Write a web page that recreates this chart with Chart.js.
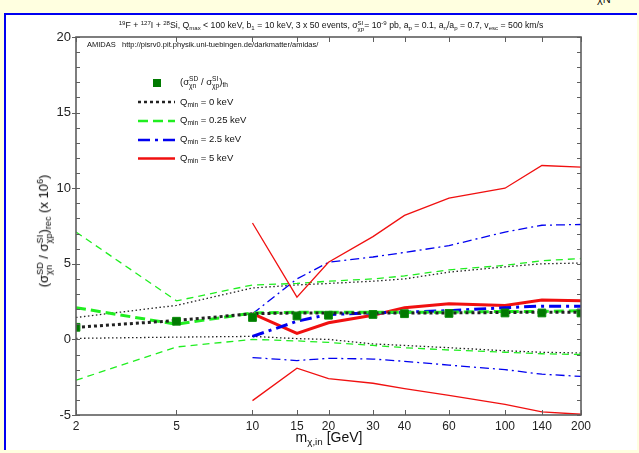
<!DOCTYPE html>
<html>
<head>
<meta charset="utf-8">
<script src="https://cdn.jsdelivr.net/npm/chart.js@4.4.1/dist/chart.umd.min.js"></script>
<style>
  body { margin: 0; background: #ffffe0; font-family: "Liberation Sans", Arial, sans-serif; }
  #wrap { position: relative; width: 639px; height: 453px; overflow: hidden; }
  #panel { position: absolute; left: 4px; top: 13px; width: 631px; height: 435px; background: #fff;
           border-left: 2px solid #0000f0; border-top: 2px solid #0000f0; }
  canvas { position: absolute; left: 0; top: 0; }
  .t { position: absolute; white-space: nowrap; color: #111; }
  sup, sub { font-size: 70%; line-height: 0; position: relative; vertical-align: baseline; }
  sup { top: -0.5em; }
  sub { top: 0.35em; }
  .ss { display: inline-block; font-size: 70%; line-height: 1; vertical-align: -0.45em; text-align: left; }
  .ss span { display: block; }
</style>
</head>
<body>
<div id="wrap">
  <div id="panel"></div>
  <div class="t" style="left:597px;top:-7px;font-size:11px;">χN</div>
  <canvas id="chart" width="639" height="453"></canvas>
  <div class="t" id="title" style="left:331px;top:20px;font-size:8.7px;transform:translateX(-50%);">
    <sup>19</sup>F + <sup>127</sup>I + <sup>28</sup>Si, Q<sub>max</sub> &lt; 100 keV, b<sub>1</sub> = 10 keV, 3 x 50 events, σ<span class="ss"><span>SI</span><span>χp</span></span>= 10<sup>-9</sup> pb, a<sub>p</sub> = 0.1, a<sub>n</sub>/a<sub>p</sub> = 0.7, v<sub>esc</sub> = 500 km/s
  </div>
  <div class="t" style="left:87px;top:40px;font-size:7.5px;">AMIDAS &nbsp;&nbsp;http://pisrv0.pit.physik.uni-tuebingen.de/darkmatter/amidas/</div>
  <div class="t" style="left:180px;top:76px;font-size:9.5px;">(σ<span class="ss"><span>SD</span><span>χn</span></span> / σ<span class="ss"><span>SI</span><span>χp</span></span>)<sub>th</sub></div>
  <div class="t" style="left:180px;top:96px;font-size:9.5px;">Q<sub>min</sub> = 0 keV</div>
  <div class="t" style="left:180px;top:114px;font-size:9.5px;">Q<sub>min</sub> = 0.25 keV</div>
  <div class="t" style="left:180px;top:133px;font-size:9.5px;">Q<sub>min</sub> = 2.5 keV</div>
  <div class="t" style="left:180px;top:152px;font-size:9.5px;">Q<sub>min</sub> = 5 keV</div>
  <div class="t" style="left:45px;top:231px;font-size:13px;color:#000;transform:translate(-50%,-50%) rotate(-90deg);">(σ<span class="ss"><span>SD</span><span>χn</span></span> / σ<span class="ss"><span>SI</span><span>χp</span></span>)<sub>rec</sub> (x 10<sup>6</sup>)</div>
  <div class="t" style="left:329px;top:429px;font-size:14px;transform:translateX(-50%);">m<sub>χ,in</sub> [GeV]</div>
</div>
<script>
const masses = [2, 5, 10, 15, 20, 30, 40, 60, 100, 140, 200];
const xTickValues = [2, 5, 10, 15, 20, 30, 40, 60, 100, 140, 200];

const theory = [0.8, 1.2, 1.45, 1.55, 1.6, 1.65, 1.7, 1.72, 1.75, 1.75, 1.75];

const q0Rec = [0.8, 1.25, 1.7, 1.75, 1.75, 1.75, 1.75, 1.75, 1.78, 1.8, 1.8];
const q0Up = [1.45, 2.25, 3.4, 3.6, 3.7, 3.85, 4.0, 4.45, 4.8, 5.0, 5.05];
const q0Lo = [0.07, 0.15, 0.2, 0.05, 0.0, -0.3, -0.4, -0.55, -0.75, -0.85, -0.9];

const q025Rec = [2.1, 1.0, 1.75, 1.8, 1.8, 1.8, 1.8, 1.8, 1.85, 1.85, 1.9];
const q025Up = [7.1, 2.55, 3.6, 3.7, 3.85, 4.0, 4.2, 4.6, 4.9, 5.2, 5.35];
const q025Lo = [-2.7, -0.5, 0.0, -0.1, -0.2, -0.4, -0.55, -0.7, -0.85, -0.95, -1.0];

const q25Rec = [null, null, 0.2, 1.2, 1.65, 1.75, 1.8, 1.9, 2.1, 2.2, 2.2];
const q25Up = [null, null, 1.7, 4.0, 5.1, 5.45, 5.75, 6.2, 7.1, 7.55, 7.6];
const q25Lo = [null, null, -1.2, -1.4, -1.25, -1.3, -1.45, -1.7, -2.0, -2.3, -2.45];

const q5Rec = [null, null, 1.7, 0.4, 1.1, 1.6, 2.1, 2.35, 2.25, 2.6, 2.55];
const q5Up = [null, null, 7.7, 2.8, 5.1, 6.8, 8.2, 9.35, 10.0, 11.5, 11.4];
const q5Lo = [null, null, -4.05, -1.9, -2.6, -2.9, -3.25, -3.7, -4.3, -4.8, -4.95];

const BLACK = '#222222';
const GREEN = '#20ee20';
const BLUE = '#0000f0';
const RED = '#f01010';

// dash patterns: thin band lines / thick reconstructed lines
const styles = {
    q0: { color: BLACK, thin: [1.5, 2.5], thick: [3, 3] },
    q025: { color: GREEN, thin: [7, 5], thick: [10, 5] },
    q25: { color: BLUE, thin: [9, 4, 2, 4], thick: [12, 5, 3, 5] },
    q5: { color: RED, thin: [], thick: [] }
};

function toPoints(values) {
    return masses.map((m, i) => ({ x: m, y: values[i] }));
}

function line(values, style, thick) {
    return {
        data: toPoints(values),
        borderColor: style.color,
        borderWidth: thick ? 3 : 1.3,
        borderDash: thick ? style.thick : style.thin,
        pointRadius: 0,
        fill: false,
        tension: 0
    };
}

const datasets = [
    {
        data: toPoints(theory),
        showLine: false,
        pointStyle: 'rect',
        pointRadius: 5.5,
        backgroundColor: '#007a00',
        borderColor: '#0a8a0a',
        borderWidth: 1,
        order: 0
    },
    line(q0Up, styles.q0, false), line(q0Lo, styles.q0, false),
    line(q025Up, styles.q025, false), line(q025Lo, styles.q025, false),
    line(q25Up, styles.q25, false), line(q25Lo, styles.q25, false),
    line(q5Up, styles.q5, false), line(q5Lo, styles.q5, false),
    line(q5Rec, styles.q5, true), line(q25Rec, styles.q25, true),
    line(q025Rec, styles.q025, true), line(q0Rec, styles.q0, true)
];
datasets.forEach((d, i) => { if (d.order === undefined) d.order = 20 - i; });

const framePlugin = {
    id: 'frame',
    afterDatasetsDraw(chart) {
        const { ctx, chartArea: a, scales: { x, y } } = chart;
        ctx.save();
        ctx.strokeStyle = '#5e5e5e';
        ctx.lineWidth = 1;
        ctx.beginPath();
        for (let v = -5; v <= 20; v++) {
            const py = Math.round(y.getPixelForValue(v)) + 0.5;
            ctx.moveTo(a.left, py); ctx.lineTo(a.left + 4, py);
            ctx.moveTo(a.right, py); ctx.lineTo(a.right - 4, py);
            if (v % 5 === 0) { ctx.moveTo(a.left - 4, py); ctx.lineTo(a.left, py); }
        }
        xTickValues.forEach(v => {
            const px = Math.round(x.getPixelForValue(v)) + 0.5;
            ctx.moveTo(px, a.bottom); ctx.lineTo(px, a.bottom - 5);
            ctx.moveTo(px, a.top); ctx.lineTo(px, a.top + 5);
        });
        ctx.stroke();
        ctx.lineWidth = 1.6;
        ctx.strokeRect(a.left, a.top, a.right - a.left, a.bottom - a.top);

        // legend samples
        const samples = [styles.q0, styles.q025, styles.q25, styles.q5];
        const ys = [102, 121, 140, 158.5];
        ctx.lineWidth = 2.5;
        samples.forEach((s, i) => {
            ctx.strokeStyle = s.color;
            ctx.setLineDash(s.thick);
            ctx.beginPath();
            ctx.moveTo(138, ys[i]);
            ctx.lineTo(175, ys[i]);
            ctx.stroke();
        });
        ctx.setLineDash([]);
        ctx.fillStyle = '#007a00';
        ctx.fillRect(153, 79, 8, 8);
        ctx.restore();
    }
};

new Chart(document.getElementById('chart'), {
    type: 'line',
    data: { datasets: datasets },
    options: {
        responsive: false,
        animation: false,
        devicePixelRatio: 1,
        layout: { padding: { left: 20, right: 58, top: 37, bottom: 0 } },
        scales: {
            x: {
                type: 'logarithmic',
                min: 2,
                max: 200,
                afterBuildTicks: s => { s.ticks = xTickValues.map(v => ({ value: v })); },
                afterFit: s => { s.height = 38; },
                grid: { display: false, drawTicks: false },
                border: { display: false },
                ticks: {
                    autoSkip: false, maxRotation: 0, minRotation: 0, padding: 4,
                    color: '#222', font: { family: 'Liberation Sans', size: 12 },
                    callback: v => String(v)
                }
            },
            y: {
                min: -5,
                max: 20,
                afterFit: s => { s.width = 56; },
                grid: { display: false, drawTicks: false },
                border: { display: false },
                ticks: {
                    stepSize: 5, padding: 5,
                    color: '#222', font: { family: 'Liberation Sans', size: 13 }
                }
            }
        },
        plugins: {
            legend: { display: false },
            tooltip: { enabled: false }
        }
    },
    plugins: [framePlugin]
});
</script>
</body>
</html>
